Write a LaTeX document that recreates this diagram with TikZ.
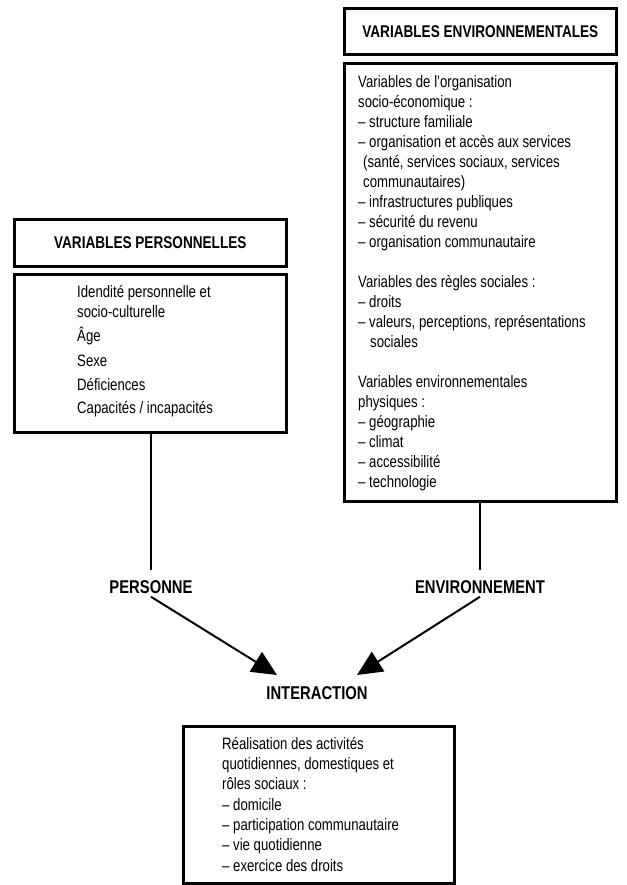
\documentclass[tikz,border=0pt]{standalone}
\usepackage{fontspec}
\setmainfont{Liberation Sans}[FakeStretch=0.8]
\usetikzlibrary{arrows.meta}
\tikzset{
  frame/.style={draw=black, line width=2.6pt, inner sep=0pt},
  titletext/.style={font=\fontsize{17}{19}\selectfont\bfseries, inner sep=0pt},
  bodytext/.style={font=\fontsize{16.5}{20}\selectfont, align=left, inner sep=0pt, anchor=north west},
  labeltext/.style={font=\fontsize{18.5}{20}\selectfont\bfseries, inner sep=0pt},
  conn/.style={line width=2pt},
  arr/.style={line width=2pt, -{Triangle[length=25pt,width=23pt]}}
}
\newcommand{\firstline}{\rule{0pt}{15pt}}
\begin{document}
\begin{tikzpicture}[x=1pt,y=-1pt]
\useasboundingbox (0,0) rectangle (626,885);
% boxes
\node[frame, minimum width=272pt, minimum height=46pt, anchor=north west] (envtitle) at (343,7) {};
\node[titletext] (envtitletxt) at (envtitle.center) {VARIABLES ENVIRONNEMENTALES};
\node[frame, minimum width=272pt, minimum height=438pt, anchor=north west] (envbox) at (343,62) {};
\node[frame, minimum width=272pt, minimum height=47pt, anchor=north west] (perstitle) at (13,218) {};
\node[titletext] (perstitletxt) at (perstitle.center) {VARIABLES PERSONNELLES};
\node[frame, minimum width=272pt, minimum height=158pt, anchor=north west] (persbox) at (13,273) {};
\node[frame, minimum width=271pt, minimum height=157pt, anchor=north west] (actbox) at (182,725) {};
% texts
\node[bodytext] (perstext) at (77,282) {\firstline Idendité personnelle et\\
socio-culturelle\\[4pt]
Âge\\[5pt]
Sexe\\[4pt]
Déficiences\\[3pt]
Capacités / incapacités};
\node[bodytext] (envtext) at (358,72) {\firstline Variables de l'organisation\\
socio-économique :\\
-- structure familiale\\
-- organisation et accès aux services\\
\hspace*{5pt}(santé, services sociaux, services\\
\hspace*{5pt}communautaires)\\
-- infrastructures publiques\\
-- sécurité du revenu\\
-- organisation communautaire\\[20pt]
Variables des règles sociales :\\
-- droits\\
-- valeurs, perceptions, représentations\\
\hspace*{12pt}sociales\\[20pt]
Variables environnementales\\
physiques :\\
-- géographie\\
-- climat\\
-- accessibilité\\
-- technologie};
\node[bodytext, font=\fontsize{16.5}{20.3}\selectfont] (acttext) at (222,734) {\firstline Réalisation des activités\\
quotidiennes, domestiques et\\
rôles sociaux :\\
-- domicile\\
-- participation communautaire\\
-- vie quotidienne\\
-- exercice des droits};
% labels
\node[labeltext] (pers) at (151,587) {PERSONNE};
\node[labeltext] (env) at (480,587) {ENVIRONNEMENT};
\node[labeltext] (inter) at (317,693) {INTERACTION};
% connectors
\coordinate (tipL) at (277,675);
\coordinate (tipR) at (357,675);
\draw[conn] (persbox.south -| pers) -- ([yshift=10pt]pers.north);
\draw[conn] (envbox.south -| env) -- ([yshift=10pt]env.north);
\draw[arr] ([yshift=-3pt]pers.south) -- (tipL);
\draw[arr] ([yshift=-3pt]env.south) -- (tipR);
\end{tikzpicture}
\end{document}
